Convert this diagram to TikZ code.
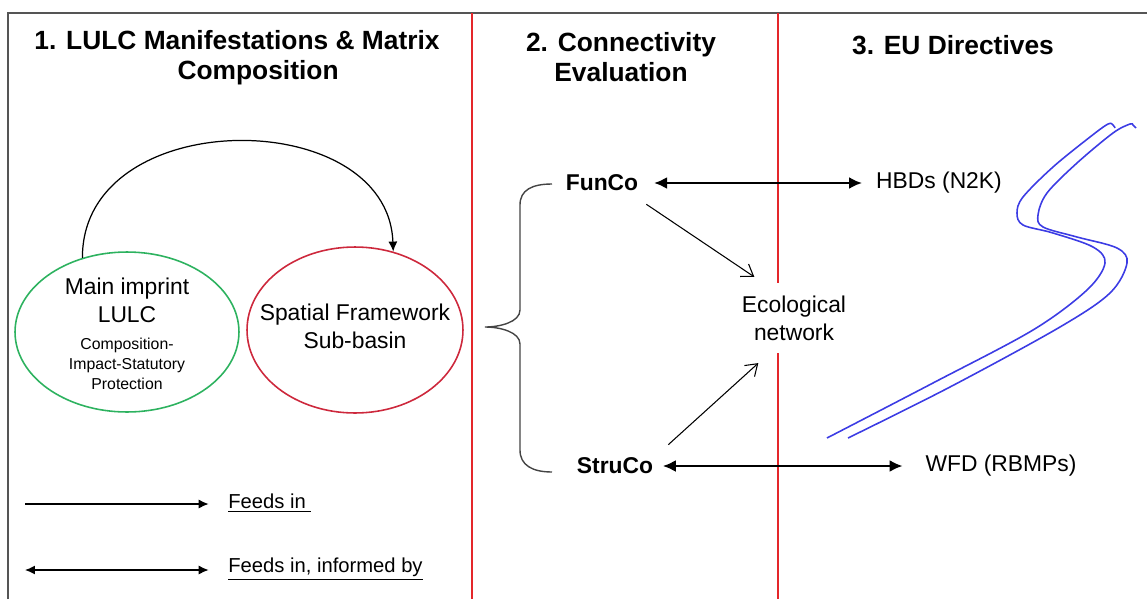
\documentclass[tikz,border=0pt]{standalone}
\usepackage{fontspec}
\setmainfont{Liberation Sans}
\usetikzlibrary{arrows.meta,shapes.geometric}

\definecolor{divred}{RGB}{228,38,42}
\definecolor{imprintgreen}{RGB}{45,178,95}
\definecolor{basinred}{RGB}{205,40,60}
\definecolor{riverblue}{RGB}{60,60,228}
\definecolor{framegray}{RGB}{85,85,85}

\tikzset{
  heading/.style={font=\fontsize{15}{17}\selectfont\bfseries, align=center},
  bodytext/.style={font=\fontsize{13}{16}\selectfont, align=center},
  smalltext/.style={font=\fontsize{9}{11.3}\selectfont, align=center},
  conn/.style={font=\fontsize{13}{16}\selectfont\bfseries},
  keytext/.style={font=\fontsize{11.5}{14}\selectfont, anchor=west, inner sep=0pt},
  blob/.style={ellipse, line width=0.9pt, inner sep=0pt},
  feed/.style={-{Latex[length=2mm,width=1.8mm]}, line width=0.7pt},
  feedboth/.style={{Latex[length=2.6mm,width=2.4mm]}-{Latex[length=2.6mm,width=2.4mm]}, line width=1.4pt},
  ecofeed/.style={-{Straight Barb[length=2.2mm,width=3mm]}, line width=0.6pt},
  divider/.style={divred, line width=0.8pt},
  river/.style={riverblue, line width=0.9pt}
}

\begin{document}
\begin{tikzpicture}[x=0.02cm, y=-0.02cm]
    \useasboundingbox (0,0) rectangle (1147,599);

    % frame and column dividers
    \draw[framegray, line width=1.2pt] (8,599) -- (8,13) -- (1147,13);
    \draw[divider] (472,13) -- (472,599);
    \draw[divider] (778,13) -- (778,599);

    % column headings
    \node[heading] (head1) at (237,58) {1. LULC Manifestations \& Matrix\\\hspace*{24pt}Composition};
    \node[heading] (head2) at (621,57) {2. Connectivity\\Evaluation};
    \node[heading] (head3) at (953,45) {3. EU Directives};

    % column 1
    \node[blob, draw=imprintgreen, minimum width=4.48cm, minimum height=3.2cm] (lulc) at (127,332) {};
    \node[bodytext] (lulctop) at (127,300) {Main imprint\\LULC};
    \node[smalltext] (lulcsub) at (127,364) {Composition-\\Impact-Statutory\\Protection};
    \node[blob, draw=basinred, minimum width=4.32cm, minimum height=3.32cm] (sf) at (355,330) {};
    \node[bodytext] (sftext) at (355,326) {Spatial Framework\\Sub-basin};
    \draw[feed] (lulc.121) .. controls (82,104) and (388,104) .. (sf.64);

    % legend
    \coordinate (k1) at (25,504);
    \coordinate (k2) at (25,570);
    \node[keytext] (key1) at (228,503) {\underline{Feeds in\ }};
    \node[keytext] (key2) at (228,569) {\underline{Feeds in, informed by}};
    \draw[feed, shorten >=11pt] (k1) -- (k1 -| key1.west);
    \draw[{Latex[length=2mm,width=1.8mm]}-{Latex[length=2mm,width=1.8mm]}, line width=0.7pt, shorten >=11pt] (k2) -- (k2 -| key2.west);

    % column 2
    \node[conn] (fun) at (602,183) {FunCo};
    \node[conn] (stru) at (615,466) {StruCo};
    \node[bodytext, fill=white, inner xsep=3pt, inner ysep=7pt] (eco) at (794,318) {Ecological\\network};
    \draw[framegray!80!black, line width=0.8pt]
        (552,184) .. controls (532,184) and (520,190) .. (520,205) -- (520,310)
        .. controls (520,322) and (500,327) .. (485,327)
        .. controls (500,327) and (520,332) .. (520,344) -- (520,450)
        .. controls (520,465) and (532,472) .. (552,472);
    \draw[ecofeed] ([shift={(2,7)}]fun.south east) -- ([shift={(18,-6)}]eco.north west);
    \draw[ecofeed] ([shift={(9,-7)}]stru.north east) -- ([shift={(22,10)}]eco.south west);

    % column 3
    \node[bodytext] (hbd) at (939,183) {HBDs (N2K)};
    \node[bodytext] (wfd) at (1001,466) {WFD (RBMPs)};
    \draw[feedboth, shorten <=5.5pt, shorten >=4.5pt] (fun.east) -- (hbd.west);
    \draw[feedboth, shorten <=2pt, shorten >=9.5pt] (stru.east) -- (wfd.west);

    % river banks
    \draw[river] plot[smooth, tension=0.55] coordinates {(827,438) (933,383) (1033,330) (1087,290) (1105,263) (1093,247) (1053,233) (1023,225) (1017,213) (1023,197) (1053,167) (1090,137) (1108,124) (1113,125) (1115,128)};
    \draw[river] plot[smooth, tension=0.55] coordinates {(848,438) (950,387) (1060,327) (1110,293) (1127,263) (1117,248) (1077,237) (1043,227) (1038,215) (1047,193) (1077,163) (1113,133) (1130,124) (1133,125) (1136,128)};
\end{tikzpicture}
\end{document}
